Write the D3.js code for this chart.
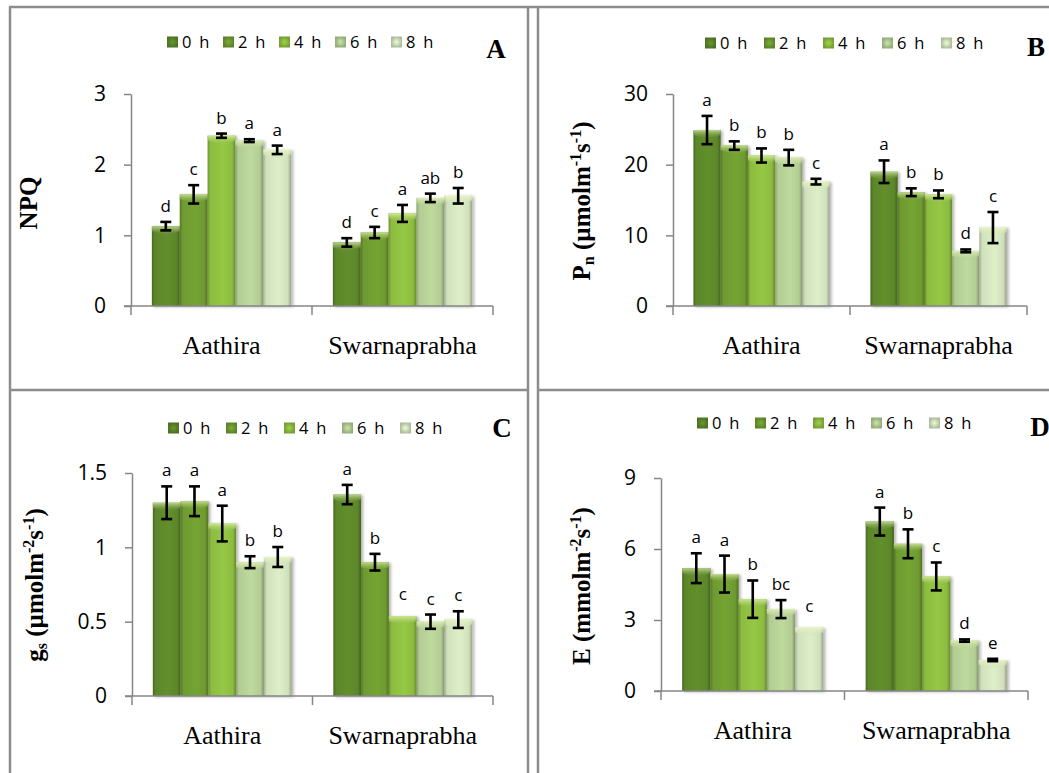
<!DOCTYPE html>
<html>
<head>
<meta charset="utf-8">
<script src="https://cdn.jsdelivr.net/npm/d3@7"></script>
<style>
  body { margin: 0; background: #fff; }
  svg { display: block; }
</style>
</head>
<body>
<svg id="fig" width="1049" height="773"></svg>
<script>
// ---- data ----------------------------------------------------------
const cultivars = ["Aathira", "Swarnaprabha"];
const hours = ["0 h", "2 h", "4 h", "6 h", "8 h"];

// A: non-photochemical quenching
const npqMean = [[1.13, 1.58, 2.41, 2.34, 2.21], [0.90, 1.04, 1.31, 1.53, 1.56]];
const npqErr  = [[0.06, 0.13, 0.03, 0.02, 0.06], [0.06, 0.08, 0.12, 0.06, 0.11]];
const npqSig  = [["d", "c", "b", "a", "a"], ["d", "c", "a", "ab", "b"]];
const npqTicks = [0, 1, 2, 3];

// B: net photosynthetic rate
const pnMean = [[24.9, 22.7, 21.3, 21.0, 17.6], [19.0, 16.1, 15.8, 7.8, 11.1]];
const pnErr  = [[2.0, 0.6, 1.0, 1.1, 0.4], [1.6, 0.55, 0.55, 0.2, 2.2]];
const pnSig  = [["a", "b", "b", "b", "c"], ["a", "b", "b", "d", "c"]];
const pnTicks = [0, 10, 20, 30];

// C: stomatal conductance
const gsMean = [[1.30, 1.31, 1.16, 0.90, 0.935], [1.355, 0.90, 0.536, 0.50, 0.514]];
const gsErr  = [[0.11, 0.10, 0.12, 0.04, 0.067], [0.065, 0.056, 0, 0.048, 0.056]];
const gsSig  = [["a", "a", "a", "b", "b"], ["a", "b", "c", "c", "c"]];
const gsTicks = [0, 0.5, 1, 1.5];

// D: transpiration rate
const eMean = [[5.19, 4.94, 3.88, 3.46, 2.68], [7.16, 6.22, 4.84, 2.13, 1.31]];
const eErr  = [[0.63, 0.78, 0.79, 0.38, 0], [0.59, 0.61, 0.59, 0.05, 0.05]];
const eSig  = [["a", "a", "b", "bc", "c"], ["a", "b", "c", "d", "e"]];
const eTicks = [0, 3, 6, 9];

// ---- styling -------------------------------------------------------
const seriesColors = ["#5c862a", "#6e9a30", "#8cbc40", "#b2cc93", "#d0e0bc"];
const axisColor = "#868686";
const frameColor = "#8c8c8c";
const sansFont = "'Open Sans', 'DejaVu Sans', sans-serif";
const serifFont = "'Liberation Serif', 'Times New Roman', serif";

const svg = d3.select("#fig");
const defs = svg.append("defs");

seriesColors.forEach((c, i) => {
  const base = d3.rgb(c);
  const body = defs.append("linearGradient").attr("id", "body" + i)
    .attr("x1", 0).attr("x2", 1).attr("y1", 0).attr("y2", 0);
  [[0, base.darker(0.7)], [0.1, base], [0.55, base.brighter(0.18)], [0.88, base], [1, base.darker(0.9)]]
    .forEach(([o, col]) => body.append("stop").attr("offset", o).attr("stop-color", col));

  const cap = defs.append("linearGradient").attr("id", "cap" + i)
    .attr("x1", 0).attr("x2", 0).attr("y1", 0).attr("y2", 1);
  cap.append("stop").attr("offset", 0).attr("stop-color", d3.interpolateRgb(c, "#f4ffc4")(0.65));
  cap.append("stop").attr("offset", 1).attr("stop-color", c).attr("stop-opacity", 0.15);

  const sw = defs.append("radialGradient").attr("id", "sw" + i);
  sw.append("stop").attr("offset", 0).attr("stop-color", base.brighter(0.35));
  sw.append("stop").attr("offset", 1).attr("stop-color", base.darker(0.5));
});

const shadow = defs.append("filter").attr("id", "shadow")
  .attr("x", "-10%").attr("y", "-10%").attr("width", "130%").attr("height", "130%");
shadow.append("feDropShadow").attr("dx", 2).attr("dy", 1).attr("stdDeviation", 1.5)
  .attr("flood-color", "#000").attr("flood-opacity", 0.3);

// ---- panel frame lines ----------------------------------------------
const frame = svg.append("g").attr("stroke", frameColor).attr("stroke-width", 2.5).attr("fill", "none");
[
  [9, 7, 1049, 7],
  [10, 7, 10, 773],
  [528, 7, 528, 773],
  [538, 7, 538, 773],
  [10, 390, 528, 390],
  [538, 390, 1049, 390]
].forEach(([x1, y1, x2, y2]) => frame.append("line").attr("x1", x1).attr("y1", y1).attr("x2", x2).attr("y2", y2));

// ---- panels -------------------------------------------------------
const panels = [
  { tag: "A", mean: npqMean, err: npqErr, sig: npqSig, ticks: npqTicks,
    x0: 131, x1: 493, yTop: 94, y0: 306,
    legend: { x: 167, y: 42, step: 56 }, tagPos: { x: 496, y: 58 },
    title: { x: 37, y: 203, parts: [["NPQ"]] } },
  { tag: "B", mean: pnMean, err: pnErr, sig: pnSig, ticks: pnTicks,
    x0: 673, x1: 1027, yTop: 94, y0: 306,
    legend: { x: 705, y: 43, step: 59 }, tagPos: { x: 1036, y: 56 },
    title: { x: 590, y: 201, parts: [["P"], ["n", "sub"], [" (µmolm"], ["-1", "sup"], ["s"], ["-1", "sup"], [")"]] } },
  { tag: "C", mean: gsMean, err: gsErr, sig: gsSig, ticks: gsTicks,
    x0: 132, x1: 493, yTop: 473, y0: 696,
    legend: { x: 168, y: 428, step: 58 }, tagPos: { x: 502, y: 437 },
    title: { x: 43, y: 585, parts: [["g"], ["s", "sub"], [" (µmolm"], ["-2", "sup"], ["s"], ["-1", "sup"], [")"]] } },
  { tag: "D", mean: eMean, err: eErr, sig: eSig, ticks: eTicks,
    x0: 661, x1: 1028, yTop: 478, y0: 691,
    legend: { x: 697, y: 423, step: 58 }, tagPos: { x: 1040, y: 436 },
    title: { x: 590, y: 586, parts: [["E (mmolm"], ["-2", "sup"], ["s"], ["-1", "sup"], [")"]] } }
];

function drawPanel(p) {
  const g = svg.append("g").attr("class", "panel-" + p.tag);
  const yMax = d3.max(p.ticks);

  const x = d3.scaleBand().domain(cultivars).range([p.x0, p.x1]).paddingInner(0).paddingOuter(0);
  const xs = d3.scaleBand().domain(hours).range([0, x.bandwidth()]).paddingInner(0).paddingOuter(0.75);
  const y = d3.scaleLinear().domain([0, yMax]).range([p.y0, p.yTop]);

  // y axis
  const yAxis = d3.axisLeft(y).tickValues(p.ticks).tickSize(7).tickSizeOuter(0)
    .tickPadding(18).tickFormat(d3.format("~g"));
  const ya = g.append("g").attr("transform", `translate(${p.x0},0)`).call(yAxis);
  ya.select(".domain").attr("stroke", axisColor).attr("stroke-width", 1.5);
  ya.selectAll(".tick line").attr("stroke", axisColor).attr("stroke-width", 1.5);
  ya.selectAll(".tick text").attr("font-family", sansFont).attr("font-size", 21).attr("fill", "#000");

  // bars
  const rows = [];
  cultivars.forEach((c, ci) => hours.forEach((h, hi) => rows.push({
    c, h, hi, v: p.mean[ci][hi], e: p.err[ci][hi], s: p.sig[ci][hi]
  })));

  const bars = g.append("g").attr("filter", "url(#shadow)");
  const bar = bars.selectAll("g.bar").data(rows).join("g").attr("class", "bar");
  bar.append("rect")
    .attr("x", d => x(d.c) + xs(d.h))
    .attr("y", d => y(d.v))
    .attr("width", xs.bandwidth())
    .attr("height", d => y(0) - y(d.v))
    .attr("fill", d => `url(#body${d.hi})`);
  bar.append("path")
    .attr("d", d => {
      const x0 = x(d.c) + xs(d.h), w = xs.bandwidth(), t = y(d.v);
      return `M${x0},${t}H${x0 + w}V${t + 5}L${x0 + w / 2},${t + 9}L${x0},${t + 5}Z`;
    })
    .attr("fill", d => `url(#cap${d.hi})`);

  // x axis line with category boundary ticks
  const xa = g.append("g").attr("stroke", axisColor).attr("stroke-width", 1.5);
  xa.append("line").attr("x1", p.x0 - 7).attr("x2", p.x1).attr("y1", y(0)).attr("y2", y(0));
  const bounds = [x.range()[0]].concat(cultivars.map(c => x(c) + x.bandwidth()));
  xa.selectAll("line.tk").data(bounds).join("line").attr("class", "tk")
    .attr("x1", d => d).attr("x2", d => d).attr("y1", y(0)).attr("y2", y(0) + 9);

  g.selectAll("text.cat").data(cultivars).join("text").attr("class", "cat")
    .attr("x", d => x(d) + x.bandwidth() / 2)
    .attr("y", y(0) + 48)
    .attr("text-anchor", "middle")
    .attr("font-family", serifFont).attr("font-size", 26).attr("fill", "#000")
    .text(d => d);

  // error bars
  const eb = g.append("g").attr("stroke", "#000").attr("stroke-width", 2.6).attr("fill", "none");
  const withErr = rows.filter(d => d.e > 0);
  withErr.forEach(d => {
    const cx = x(d.c) + xs(d.h) + xs.bandwidth() / 2;
    const lo = y(d.v - d.e), hi = y(d.v + d.e);
    eb.append("line").attr("x1", cx).attr("x2", cx).attr("y1", lo).attr("y2", hi);
    eb.append("line").attr("x1", cx - 5.5).attr("x2", cx + 5.5).attr("y1", lo).attr("y2", lo);
    eb.append("line").attr("x1", cx - 5.5).attr("x2", cx + 5.5).attr("y1", hi).attr("y2", hi);
  });

  // significance letters
  g.selectAll("text.sig").data(rows).join("text").attr("class", "sig")
    .attr("x", d => x(d.c) + xs(d.h) + xs.bandwidth() / 2)
    .attr("y", d => y(d.v + d.e) - (d.e > 0 ? 10 : 16))
    .attr("text-anchor", "middle")
    .attr("font-family", sansFont).attr("font-size", 17).attr("fill", "#000")
    .text(d => d.s);

  // legend
  const lg = g.append("g").attr("transform", `translate(${p.legend.x},${p.legend.y})`);
  const item = lg.selectAll("g").data(hours).join("g")
    .attr("transform", (d, i) => `translate(${i * p.legend.step},0)`);
  item.append("rect").attr("x", 0).attr("y", -5.5).attr("width", 11).attr("height", 11)
    .attr("fill", (d, i) => `url(#sw${i})`);
  item.append("text").attr("x", 15).attr("y", 6)
    .attr("font-family", sansFont).attr("font-size", 16.5).attr("letter-spacing", 1.8)
    .attr("fill", "#000").text(d => d);

  // panel tag
  g.append("text").attr("x", p.tagPos.x).attr("y", p.tagPos.y).attr("text-anchor", "middle")
    .attr("font-family", serifFont).attr("font-weight", "bold").attr("font-size", 27)
    .attr("fill", "#000").text(p.tag);

  // y axis title
  const t = g.append("text")
    .attr("transform", `translate(${p.title.x},${p.title.y}) rotate(-90)`)
    .attr("text-anchor", "middle")
    .attr("font-family", serifFont).attr("font-weight", "bold").attr("font-size", 25)
    .attr("fill", "#000");
  p.title.parts.forEach(([s, kind]) => {
    const ts = t.append("tspan").text(s);
    if (kind === "sub") ts.attr("font-size", 16).attr("baseline-shift", "-4");
    if (kind === "sup") ts.attr("font-size", 16).attr("baseline-shift", "9");
  });
}

panels.forEach(drawPanel);
</script>
</body>
</html>
